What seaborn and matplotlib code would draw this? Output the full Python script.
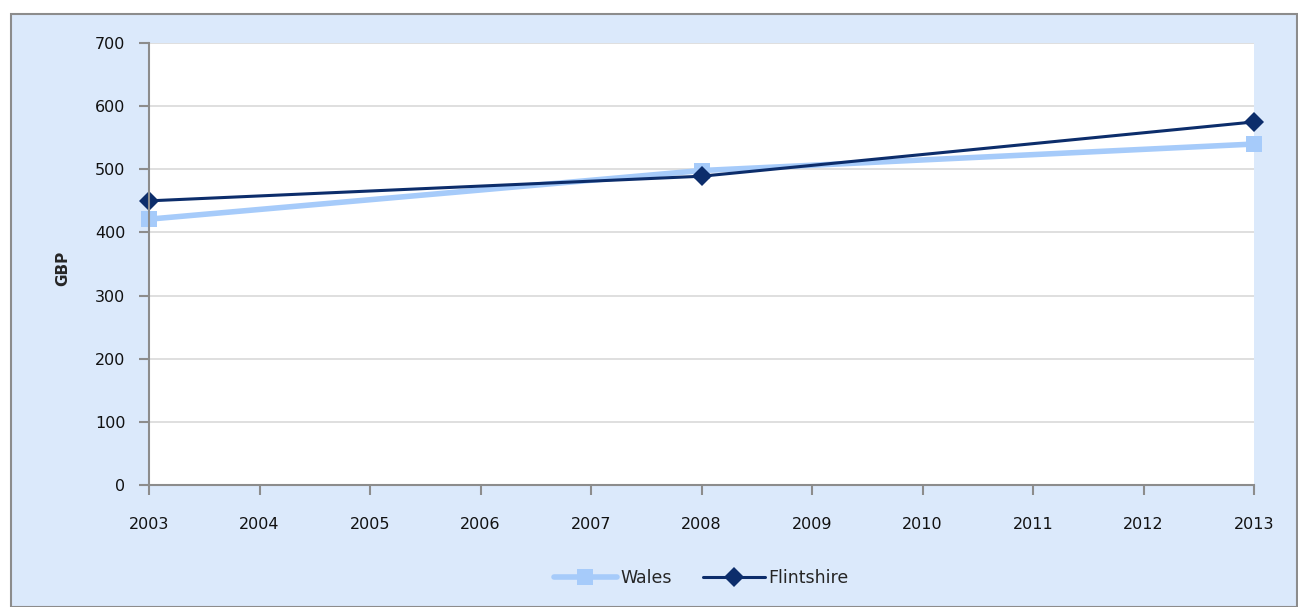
import pandas as pd
import matplotlib.pyplot as plt
import seaborn as sns
from matplotlib.patches import Rectangle

# values
years = [2003, 2008, 2013]
wales = [421, 498, 540]
flintshire = [450, 489, 575]

df = pd.DataFrame({
    'Year': years * 2,
    'GBP': wales + flintshire,
    'Area': ['Wales'] * 3 + ['Flintshire'] * 3,
})

sns.set_style("white")
plt.rcParams['font.family'] = ['DejaVu Sans']

fig = plt.figure(figsize=(12.98, 6.07), dpi=100)
fig.patch.set_facecolor('white')

# light blue chart area with grey border
bg = Rectangle((11 / 1298, 0), 1 - 12 / 1298, 1 - 14 / 607, transform=fig.transFigure,
               facecolor='#DBE9FB', edgecolor='#8C8C8C', linewidth=1.5, zorder=-10)
fig.patches.append(bg)

ax = fig.add_axes([149 / 1298, 1 - 485 / 607, (1254 - 149) / 1298, (485 - 43) / 607])
ax.set_zorder(5)
ax.set_facecolor('white')

sns.lineplot(data=df[df.Area == 'Wales'], x='Year', y='GBP', ax=ax, color='#A6CBFA',
             linewidth=4, marker='s', markersize=11, markeredgewidth=0, label='Wales')
sns.lineplot(data=df[df.Area == 'Flintshire'], x='Year', y='GBP', ax=ax, color='#0C2D6B',
             linewidth=2.2, marker='D', markersize=10, markeredgewidth=0, label='Flintshire')

ax.set_xlim(2003, 2013)
ax.set_ylim(0, 700)
ax.set_xticks(range(2003, 2014))
ax.set_yticks(range(0, 701, 100))
ax.yaxis.grid(True, color='#D9D9D9', linewidth=1.2)
ax.set_axisbelow(True)
for line in ax.lines:
    line.set_clip_on(False)
for s in ['top', 'right']:
    ax.spines[s].set_visible(False)
for s in ['left', 'bottom']:
    ax.spines[s].set_color('#8C8C8C')
    ax.spines[s].set_linewidth(1.5)
ax.tick_params(axis='both', length=7, width=1.5, color='#8C8C8C', labelsize=11.5,
               labelcolor='#111111', direction='out', left=True, bottom=True)
ax.tick_params(axis='x', pad=16)
ax.tick_params(axis='y', pad=10)
ax.set_xlabel('')
ax.set_ylabel('GBP', fontsize=11, fontweight='bold')
ax.yaxis.set_label_coords(-0.071, 0.49)

leg = ax.legend(loc='center', bbox_to_anchor=(0.5, -0.21), ncol=2, frameon=False,
                fontsize=12.5, handlelength=3.6, columnspacing=1.8, handletextpad=0.2)

fig.savefig('out.png', dpi=100)
